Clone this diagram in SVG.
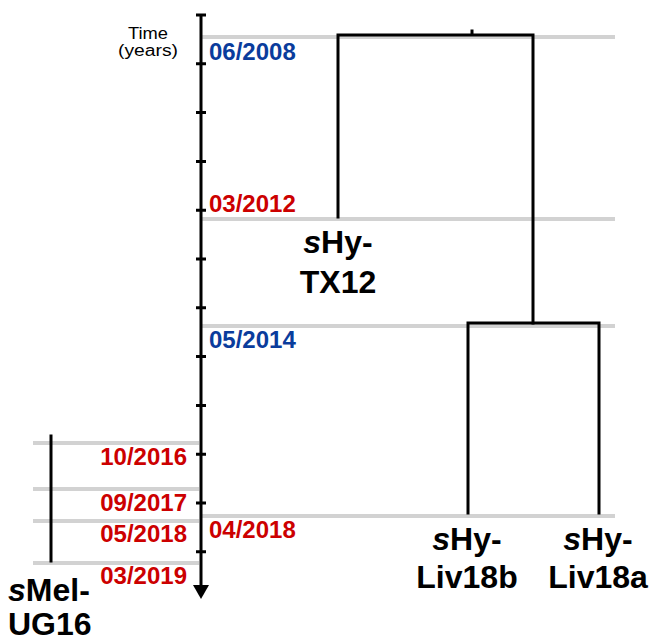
<svg xmlns="http://www.w3.org/2000/svg" width="651" height="642" viewBox="0 0 651 642">
<style>
.grid{stroke:#d2d2d2;stroke-width:4;fill:none}
.br{stroke:#000;stroke-width:3;fill:none;stroke-linecap:square}
.ax{stroke:#000;stroke-width:3;fill:none}
.d{font-family:"Liberation Sans",Arial,sans-serif;font-weight:bold;font-size:24px}
.blue{fill:#0a3c9c}
.red{fill:#cc0000}
.lab{font-family:"Liberation Sans",Arial,sans-serif;font-weight:bold;font-size:32px;fill:#000}
.mid{text-anchor:middle}
.t{font-family:"Liberation Sans",Arial,sans-serif;font-size:16px;fill:#000;text-anchor:middle}
</style>
<rect width="651" height="642" fill="#fff"/>
<g id="gridlines">
<line class="grid" x1="202" y1="37" x2="615" y2="37"/>
<line class="grid" x1="202" y1="219" x2="615" y2="219"/>
<line class="grid" x1="202" y1="326" x2="615" y2="326"/>
<line class="grid" x1="202" y1="516" x2="615" y2="516"/>
<line class="grid" x1="33" y1="443" x2="199" y2="443"/>
<line class="grid" x1="33" y1="489" x2="199" y2="489"/>
<line class="grid" x1="33" y1="521" x2="199" y2="521"/>
<line class="grid" x1="33" y1="563" x2="199" y2="563"/>
</g>
<g id="axis">
<line class="ax" x1="201" y1="14" x2="201" y2="587"/>
<polygon points="193,585 209,585 201,599" fill="#000"/>
<path class="ax" d="M196,15H206M196,63.8H206M196,112.6H206M196,161.4H206M196,210.2H206M196,259H206M196,307.8H206M196,356.6H206M196,405.4H206M196,454.2H206M196,503H206M196,551.8H206"/>
<text class="t" x="148" y="39" textLength="40" lengthAdjust="spacingAndGlyphs">Time</text>
<text class="t" x="148" y="56" textLength="60" lengthAdjust="spacingAndGlyphs">(years)</text>
</g>
<g id="dates">
<text class="d blue" x="209" y="60">06/2008</text>
<text class="d red" x="209" y="212">03/2012</text>
<text class="d blue" x="209" y="348">05/2014</text>
<text class="d red" x="209" y="538">04/2018</text>
<text class="d red" x="187" y="465" text-anchor="end">10/2016</text>
<text class="d red" x="187" y="511" text-anchor="end">09/2017</text>
<text class="d red" x="187" y="542" text-anchor="end">05/2018</text>
<text class="d red" x="187" y="584" text-anchor="end">03/2019</text>
</g>
<g id="connectors">
<path class="br" d="M472,31V35M338,217V35H533V323"/>
<path class="br" d="M468,513V323H599V513"/>
<line class="br" x1="51" y1="436" x2="51" y2="561"/>
</g>
<g id="node-TX12">
<text class="lab mid" x="338" y="253"><tspan font-style="italic">s</tspan>Hy-</text>
<text class="lab mid" x="338" y="293">TX12</text>
</g>
<g id="node-Liv18b">
<text class="lab mid" x="467" y="550"><tspan font-style="italic">s</tspan>Hy-</text>
<text class="lab mid" x="467" y="588">Liv18b</text>
</g>
<g id="node-Liv18a">
<text class="lab mid" x="598" y="550"><tspan font-style="italic">s</tspan>Hy-</text>
<text class="lab mid" x="598" y="588">Liv18a</text>
</g>
<g id="node-UG16">
<text class="lab" x="8" y="601"><tspan font-style="italic">s</tspan>Mel-</text>
<text class="lab" x="8" y="635">UG16</text>
</g>
</svg>
